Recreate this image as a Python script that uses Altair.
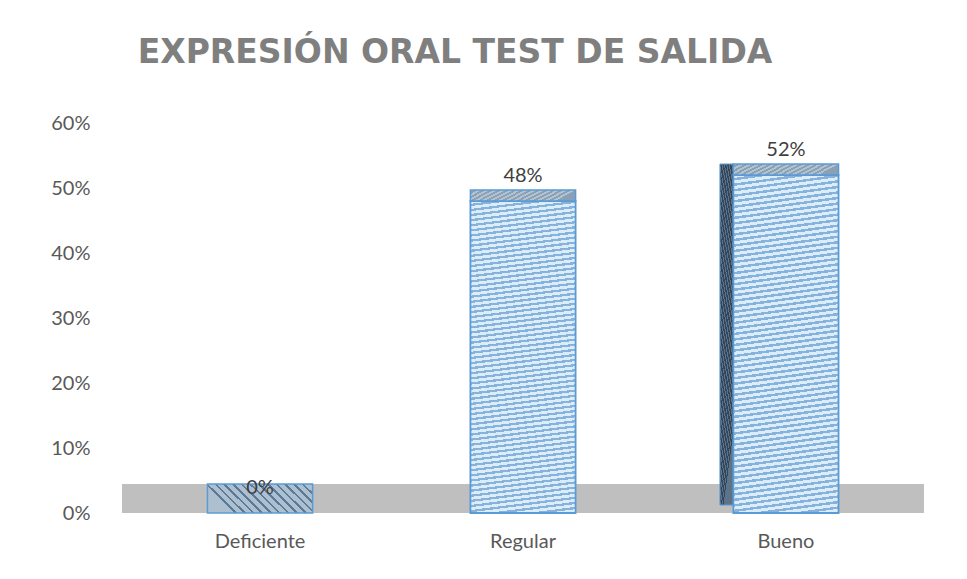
import altair as alt
import pandas as pd

categories = ["Deficiente", "Regular", "Bueno"]
values = [0.0, 0.48, 0.52]
value_labels = ["0%", "48%", "52%"]
y_ticks = [0, 0.1, 0.2, 0.3, 0.4, 0.5, 0.6]
title_text = "EXPRESIÓN ORAL TEST DE SALIDA"

df = pd.DataFrame({"cat": categories, "val": values, "lab": value_labels})
floor_df = pd.DataFrame({"z": [0]})


def stripes(c1, c2, n, frac, x1, y1, x2, y2):
    stops = []
    for i in range(n):
        a = i / n
        b = (i + frac) / n
        c = (i + 1) / n
        stops += [
            {"offset": a, "color": c1},
            {"offset": b, "color": c1},
            {"offset": b, "color": c2},
            {"offset": c, "color": c2},
        ]
    return {"gradient": "linear", "x1": x1, "y1": y1, "x2": x2, "y2": y2, "stops": stops}


front_fill = stripes("#dcedfa", "#86b2dc", 64, 0.55, 0, 0, 0.045, 1.045)
face0_fill = stripes("#aebfd0", "#5a7a9a", 13, 0.7, 0, 0.28, 1, 0)
cap_fill = stripes("#b3c3d2", "#8aa0b5", 14, 0.5, 0, 0, 1, 0.2)
side_fill = stripes("#34475a", "#5d7389", 30, 0.6, 0, 0, 0.3, 1)

x_enc = alt.X(
    "cat:N",
    sort=categories,
    scale=alt.Scale(paddingInner=0.6, paddingOuter=0.325),
    axis=alt.Axis(
        title=None, ticks=False, domain=False, labelAngle=0, labelPadding=18,
        labelFontSize=20, labelFont="Lato", labelColor="#595959",
    ),
)
y_scale = alt.Scale(domain=[0, 0.6])
y_enc = alt.Y(
    "val:Q",
    scale=y_scale,
    axis=alt.Axis(
        title=None, values=y_ticks, format=".0%", ticks=False, domain=False, grid=False,
        labelPadding=32, labelFontSize=20, labelFont="Lato", labelColor="#595959",
    ),
)

floor = alt.Chart(floor_df).mark_rect(color="#bfbfbf", y2Offset=-29).encode(
    y=alt.Y("z:Q", scale=y_scale), y2="z:Q"
)

side = alt.Chart(df).transform_filter("datum.cat == 'Bueno'").mark_bar(
    fill=side_fill, stroke="#5b9bd5", strokeWidth=1, width=14, xOffset=-59,
    yOffset=-11, y2Offset=-8,
).encode(x=x_enc, y=y_enc, y2=alt.datum(0))

front = alt.Chart(df).transform_filter("datum.val > 0").mark_bar(
    fill=front_fill, stroke="#5b9bd5", strokeWidth=1.8
).encode(x=x_enc, y=y_enc)

cap = alt.Chart(df).transform_filter("datum.val > 0").mark_bar(
    fill=cap_fill, stroke="#5b9bd5", strokeWidth=1.5, y2Offset=-11
).encode(x=x_enc, y=y_enc, y2="val:Q")

face0 = alt.Chart(df).transform_filter("datum.val == 0").mark_bar(
    fill=face0_fill, stroke="#5b9bd5", strokeWidth=1.5, y2Offset=-29
).encode(x=x_enc, y=y_enc, y2="val:Q")

text = alt.Chart(df).mark_text(
    dy=-25, fontSize=20, font="Lato", color="#404040"
).encode(x=x_enc, y=y_enc, text="lab:N")

chart = alt.layer(floor, side, front, cap, face0, text).properties(
    width=802,
    height=390,
    autosize=alt.AutoSizeParams(type="none"),
    padding={"left": 114, "top": 115, "right": 33, "bottom": 48},
    title=alt.Title(
        title_text, fontSize=33, font="DejaVu Sans", fontWeight="bold", color="#7f7f7f",
        anchor="middle", baseline="alphabetic", offset=17, dx=-68,
    ),
).configure_view(stroke=None)

chart.save("out.html", embed_options={"renderer": "svg", "actions": False})
